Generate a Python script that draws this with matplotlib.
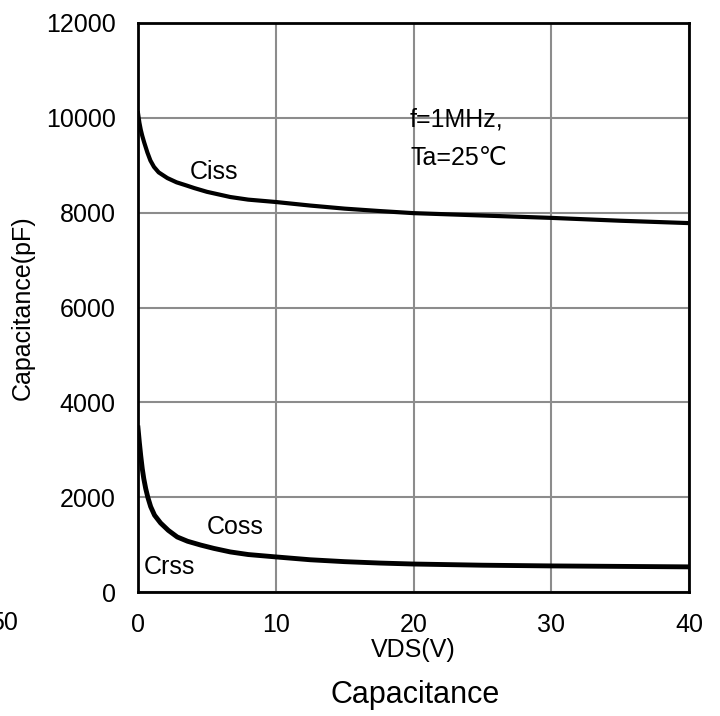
import matplotlib
matplotlib.use("Agg")
import matplotlib.pyplot as plt
import numpy as np

plt.rcParams['font.family'] = ['Liberation Sans', 'DejaVu Sans']

vds_ciss = [0.0, 0.1, 0.2, 0.31, 0.45, 0.68, 0.9, 1.16, 1.5, 2.13, 2.8, 3.5, 4.07,
            5.0, 6.7, 8.0, 10, 12.5, 15, 17.5, 20, 25, 30, 35, 40]
ciss = [10100, 9900, 9750, 9620, 9480, 9270, 9100, 8965, 8850, 8730, 8640, 8575, 8520,
        8440, 8330, 8275, 8225, 8150, 8085, 8035, 7990, 7940, 7890, 7830, 7780]

vds_coss = [0.0, 0.1, 0.2, 0.31, 0.42, 0.56, 0.72, 0.92, 1.2, 1.64, 2.2, 2.85, 3.6,
            4.55, 5.5, 6.7, 8.0, 10, 12.5, 15, 17.6, 20, 25, 30, 35, 40]
coss = [3460, 3150, 2870, 2600, 2390, 2180, 1990, 1800, 1620, 1455, 1300, 1160, 1070,
        990, 920, 845, 790, 740, 680, 640, 610, 590, 565, 550, 540, 530]

xticks = [0, 10, 20, 30, 40]
yticks = [0, 2000, 4000, 6000, 8000, 10000, 12000]

fig = plt.figure(figsize=(7.2, 7.16), dpi=100)
ax = fig.add_axes([138/720, 1-592/716, (689-138)/720, (592-23)/716])

ax.plot(vds_ciss, ciss, color='black', lw=3, solid_joinstyle='round')
ax.plot(vds_coss, coss, color='black', lw=3.5, solid_joinstyle='round')

ax.set_xlim(0, 40)
ax.set_ylim(0, 12000)
ax.set_xticks(xticks)
ax.set_yticks(yticks)
ax.grid(True, color='#8c8c8c', lw=1.5)
ax.set_axisbelow(True)
for s in ax.spines.values():
    s.set_linewidth(2)
    s.set_color('black')
ax.tick_params(length=0, labelsize=18, pad=16)
ax.tick_params(axis='x', pad=15)

ax.set_xlabel('VDS(V)', fontsize=18, labelpad=1)
ax.set_ylabel('Capacitance(pF)', fontsize=18, labelpad=8)

ax.text(5.5, 8860, 'Ciss', fontsize=18, ha='center', va='center')
ax.text(7.05, 1370, 'Coss', fontsize=18, ha='center', va='center')
ax.text(2.3, 530, 'Crss', fontsize=18, ha='center', va='center')
ax.text(19.7, 9955, 'f=1MHz,', fontsize=18, ha='left', va='center')
ax.text(19.8, 9153, 'Ta=25℃', fontsize=18, ha='left', va='center')

fig.text(18/720, 1-623/716, '50', fontsize=18, ha='right', va='center')
fig.text(415/720, 1-695/716, 'Capacitance', fontsize=22, ha='center', va='center')

fig.savefig('out.png', dpi=100)
